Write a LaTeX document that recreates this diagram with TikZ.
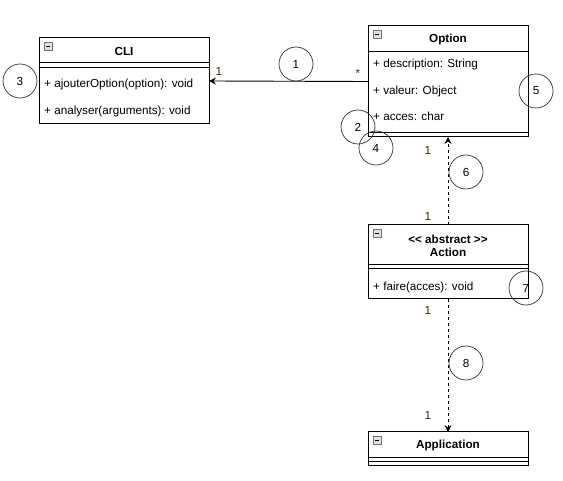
\documentclass[tikz,border=0pt]{standalone}
\usepackage{fontspec}
\setmainfont{Liberation Sans}
\usetikzlibrary{arrows.meta}
\definecolor{lbl}{HTML}{4D2600}
\tikzset{
  box/.style={draw, line width=1pt, anchor=north west, inner sep=0pt, outer sep=0pt},
  txt/.style={anchor=base west, inner sep=0pt, font=\fontsize{11.7}{14}\selectfont},
  ttl/.style={inner sep=0pt, font=\fontsize{11.7}{13.5}\selectfont\bfseries, align=center},
  num/.style={draw, circle, line width=0.7pt, draw=black!80, minimum size=34pt, inner sep=0pt, font=\fontsize{11.7}{14}\selectfont},
  mult/.style={inner sep=0pt, text=lbl, font=\fontsize{11.7}{14}\selectfont},
  conn/.style={line width=0.9pt},
  tip/.style={-{Stealth[length=7pt,width=7pt,inset=2.5pt]}},
}
\newcommand{\collapseicon}[2]{%
  \draw[draw=black!55, fill=black!12, line width=0.6pt] (#1,#2) rectangle ++(8,8);
  \draw[line width=0.8pt] (#1+2,#2+4) -- ++(4,0);
}
\begin{document}
\begin{tikzpicture}[x=1pt,y=-1pt]
\useasboundingbox (0,0) rectangle (563,481);
% CLI
\node[box, minimum width=170pt, minimum height=86pt] (cli) at (39,38) {};
\draw[line width=1pt] (39,63) -- (209,63) (39,68) -- (209,68);
\node[ttl] (clit) at (124,51) {CLI};
\node[txt] (clim1) at (44,88) {+ ajouterOption(option): void};
\node[txt] (clim2) at (44,115) {+ analyser(arguments): void};
\collapseicon{44}{42}
% Option
\node[box, minimum width=160pt, minimum height=111pt] (opt) at (368,26) {};
\draw[line width=1pt] (368,52) -- (528,52) (368,133) -- (528,133);
\node[ttl] (optt) at (448,39) {Option};
\node[txt] (opta1) at (373,68) {+ description: String};
\node[txt] (opta2) at (373,95) {+ valeur: Object};
\node[txt] (opta3) at (373,121) {+ acces: char};
\collapseicon{373}{30}
% Action
\node[box, minimum width=160pt, minimum height=74pt] (act) at (368,225) {};
\draw[line width=1pt] (368,265) -- (528,265) (368,269) -- (528,269);
\node[ttl] (actt) at (448,246) {<{}< abstract >{}>\\Action};
\node[txt] (actm1) at (373,291) {+ faire(acces): void};
\collapseicon{373}{229}
% Application
\node[box, minimum width=160pt, minimum height=33pt] (app) at (368,432) {};
\draw[line width=1pt] (368,457) -- (528,457) (368,461) -- (528,461);
\node[ttl] (appt) at (448,445) {Application};
\collapseicon{373}{436}
% connectors
\draw[conn, tip] (opt.west) -- (cli.east);
\draw[conn, tip, dashed, dash pattern=on 3pt off 3pt] (act.north) -- (opt.south);
\draw[conn, tip, dashed, dash pattern=on 3pt off 3pt] (act.south) -- (app.north);
% multiplicities
\node[mult] (m1) at (219,71) {1};
\node[mult] (m2) at (358,73) {*};
\node[mult] (m3) at (428,150) {1};
\node[mult] (m4) at (428,216) {1};
\node[mult] (m5) at (428,310) {1};
\node[mult] (m6) at (428,415) {1};
% numbered circles
\node[num] (c1) at (296,64) {1};
\node[num] (c3) at (20,81) {3};
\node[num] (c5) at (536,91) {5};
\node[num] (c2) at (358,127) {2};
\node[num] (c4) at (376,148) {4};
\node[num] (c6) at (466,172) {6};
\node[num] (c7) at (526,288) {7};
\node[num] (c8) at (466,363) {8};
\end{tikzpicture}
\end{document}
